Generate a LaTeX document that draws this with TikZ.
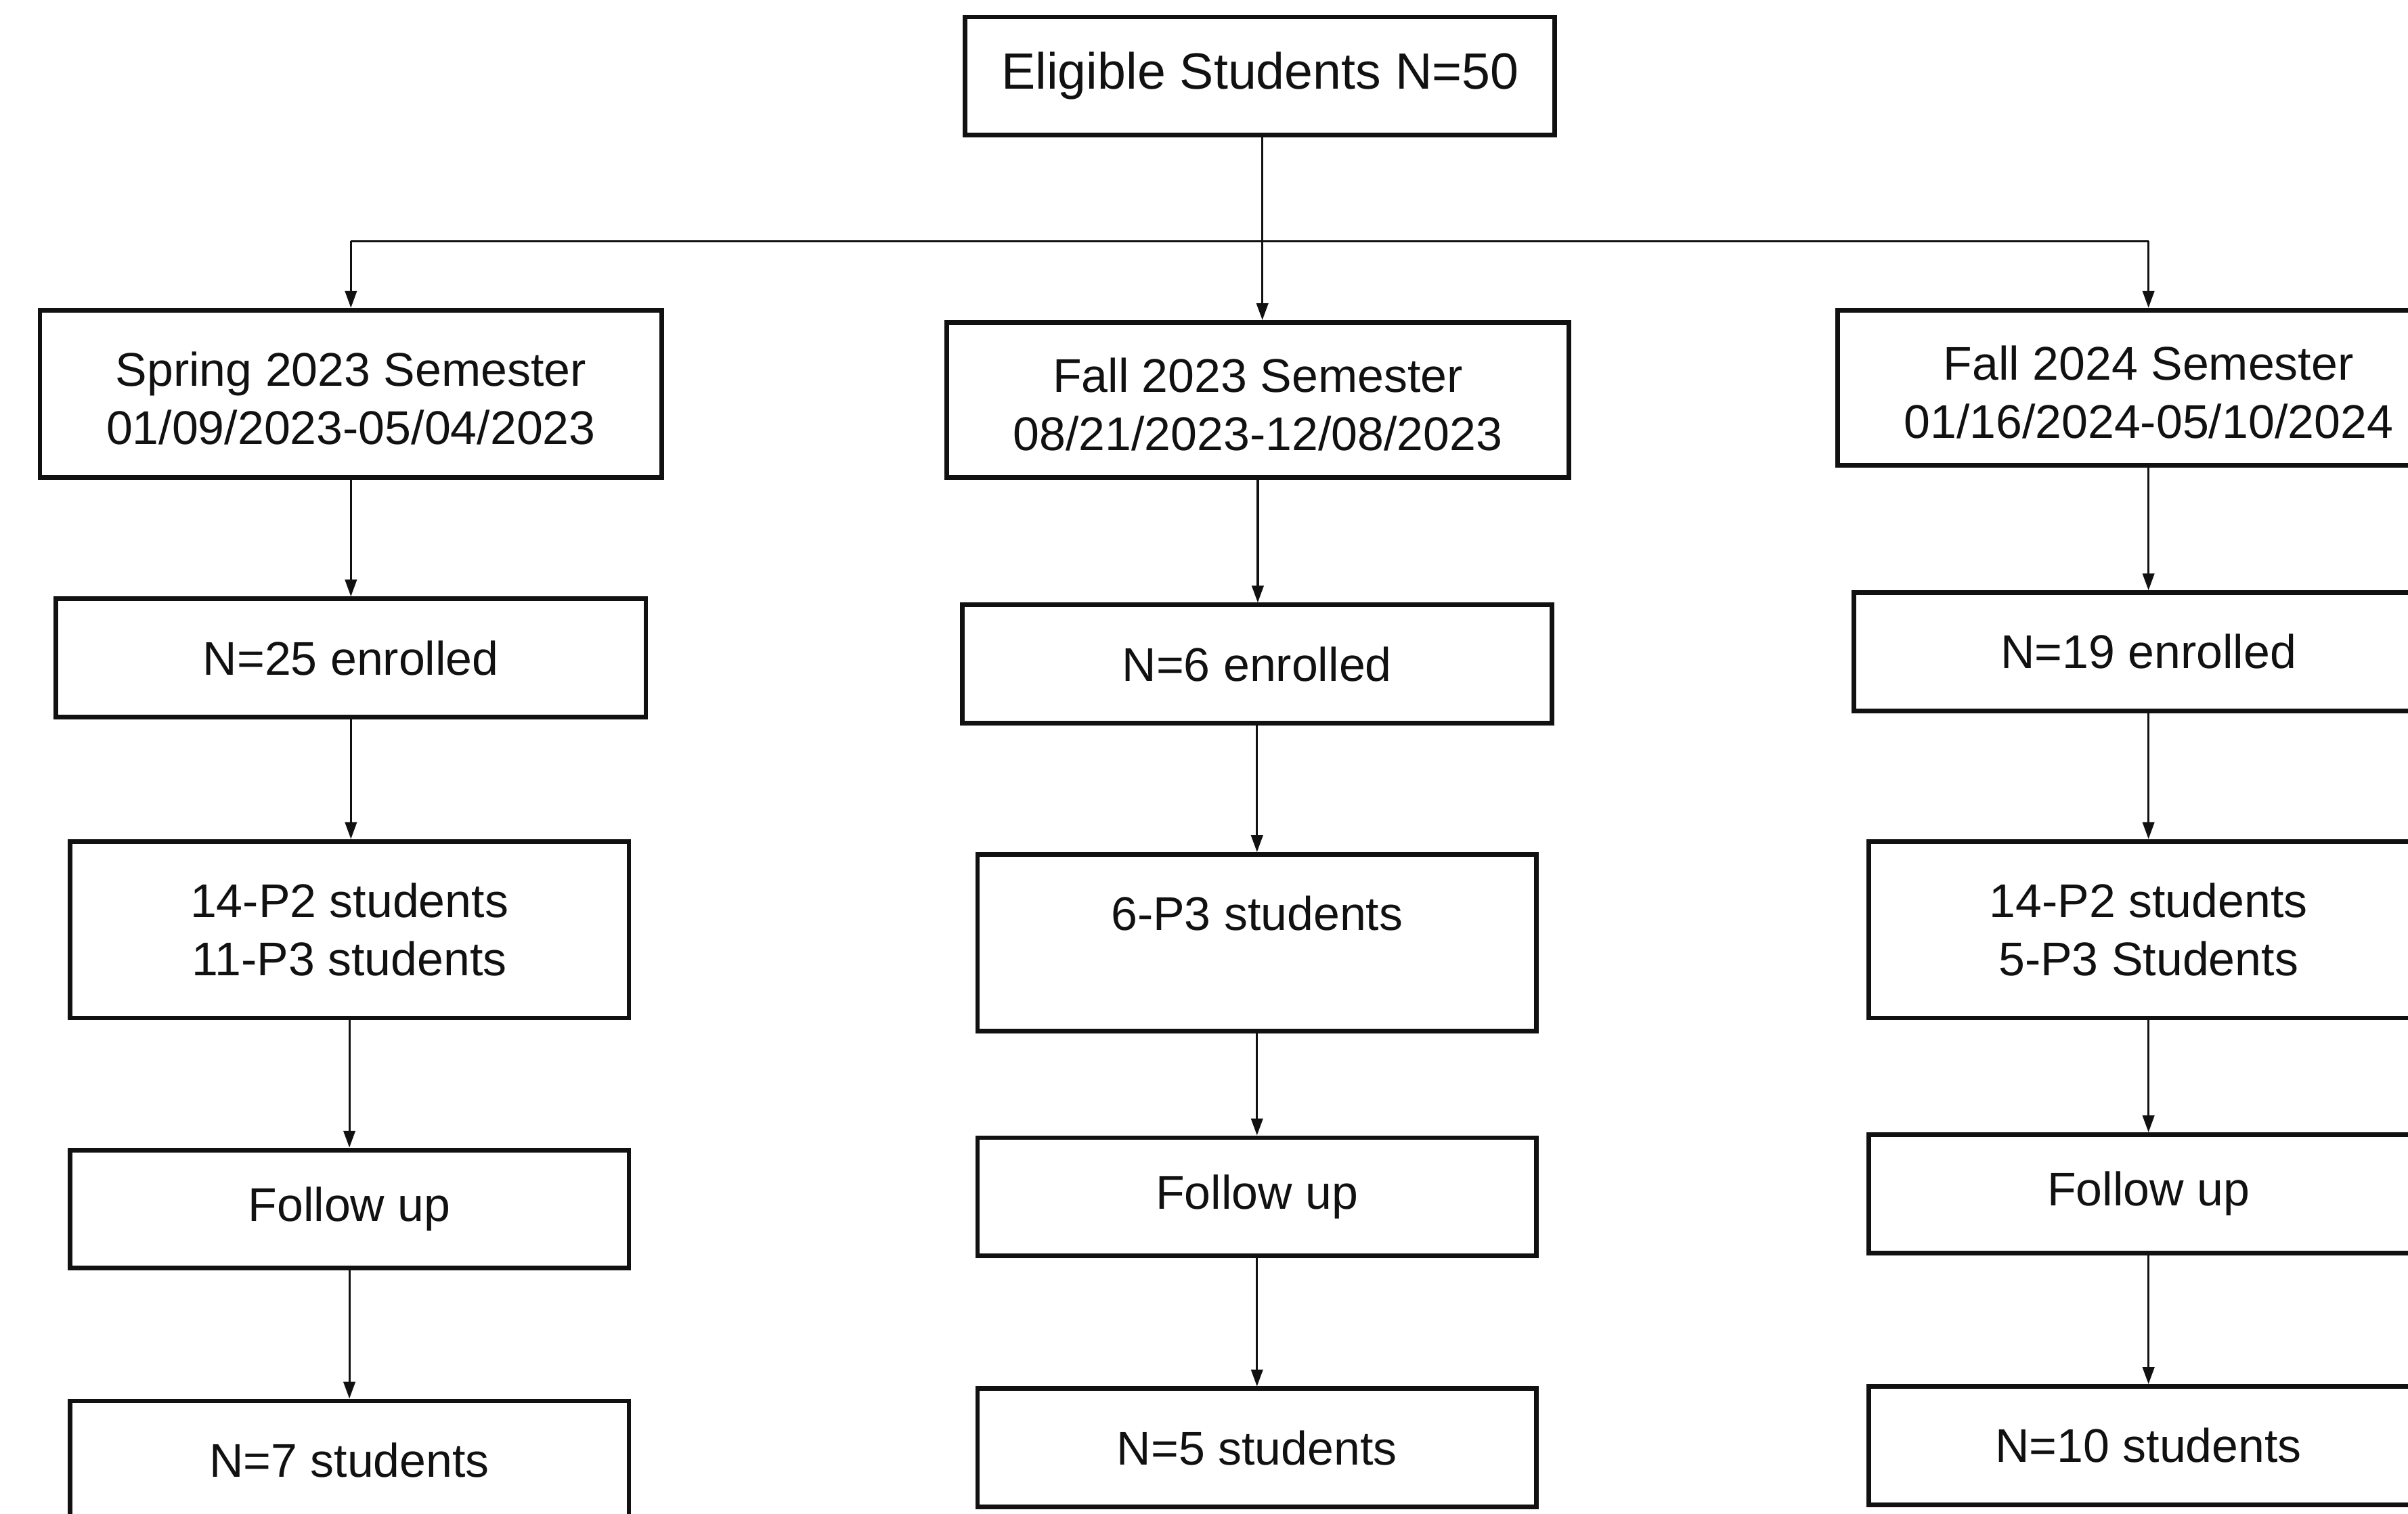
\documentclass[tikz,border=0pt]{standalone}
\usepackage{fontspec}
\setmainfont{Liberation Sans}
\usetikzlibrary{arrows.meta}
\definecolor{ink}{HTML}{111111}
\newcommand{\boxfont}{\fontsize{15.4}{19}\selectfont}
\newcommand{\headfont}{\fontsize{16.6}{19}\selectfont}
\tikzset{
  stagebox/.style={draw=ink, line width=1.5pt, fill=white, align=center,
    inner sep=0pt, text=ink, font=\boxfont},
  widebox/.style={stagebox, minimum width=202.5pt, minimum height=52pt},
  midbox/.style={stagebox, minimum width=192pt, minimum height=38.5pt},
  cohortbox/.style={stagebox, minimum width=182pt, minimum height=57.5pt},
  narrowbox/.style={stagebox, minimum width=182pt, minimum height=38.5pt},
  flowline/.style={draw=ink, line width=0.7pt},
  flowarrow/.style={flowline, -{Triangle[length=5.5pt,width=3.8pt]}}
}

\begin{document}
\begin{tikzpicture}[x=0.5pt,y=-0.5pt]
  \clip (0,0) rectangle (1568,986);
  \fill[white] (0,0) rectangle (1568,986);

  % top
  \node[midbox, font=\headfont] (eligible) at (820.5,49.5) {Eligible Students N=50};
  \coordinate (bus) at (822,157);

  % semesters
  \node[widebox, minimum height=54.5pt] (spring) at (228.5,256.5) {\rule{0pt}{14pt}Spring 2023 Semester\\01/09/2023-05/04/2023};
  \node[widebox, minimum height=50.5pt] (fallthree) at (819,260.5) {\rule{0pt}{14pt}Fall 2023 Semester\\08/21/2023-12/08/2023};
  \node[widebox, minimum height=50.5pt] (fallfour) at (1399,252.5) {\rule{0pt}{14pt}Fall 2024 Semester\\01/16/2024-05/10/2024};

  % enrolled
  \node[midbox] (enrspring) at (228.5,428.5) {N=25 enrolled};
  \node[midbox] (enrfallthree) at (818.5,432.5) {N=6 enrolled};
  \node[midbox] (enrfallfour) at (1399,424.5) {N=19 enrolled};

  % cohorts
  \node[cohortbox] (cohspring) at (227.5,605.5) {14-P2 students\\11-P3 students};
  \node[cohortbox] (cohfallthree) at (818.5,614) {6-P3 students\\\phantom{6-P3}};
  \node[cohortbox] (cohfallfour) at (1399,605.5) {14-P2 students\\5-P3 Students};

  % follow up
  \node[narrowbox] (fupspring) at (227.5,787.5) {Follow up};
  \node[narrowbox] (fupfallthree) at (818.5,779.5) {Follow up};
  \node[narrowbox] (fupfallfour) at (1399,777.5) {Follow up};

  % final counts
  \node[narrowbox] (endspring) at (227.5,951) {N=7 students};
  \node[narrowbox] (endfallthree) at (818.5,943) {N=5 students};
  \node[narrowbox] (endfallfour) at (1399,941.5) {N=10 students};

  % split into semesters
  \draw[flowarrow] (eligible.south -| bus) -- (bus |- fallthree.north);
  \draw[flowline] (bus -| spring.north) -- (bus -| fallfour.north);
  \draw[flowarrow] (bus -| spring.north) -- (spring.north);
  \draw[flowarrow] (bus -| fallfour.north) -- (fallfour.north);

  % columns
  \foreach \col in {spring,fallthree,fallfour} {
    \draw[flowarrow] (\col.south) -- (\col.south |- enr\col.north);
    \draw[flowarrow] (enr\col.south) -- (enr\col.south |- coh\col.north);
    \draw[flowarrow] (coh\col.south) -- (coh\col.south |- fup\col.north);
    \draw[flowarrow] (fup\col.south) -- (fup\col.south |- end\col.north);
  }
\end{tikzpicture}
\end{document}
